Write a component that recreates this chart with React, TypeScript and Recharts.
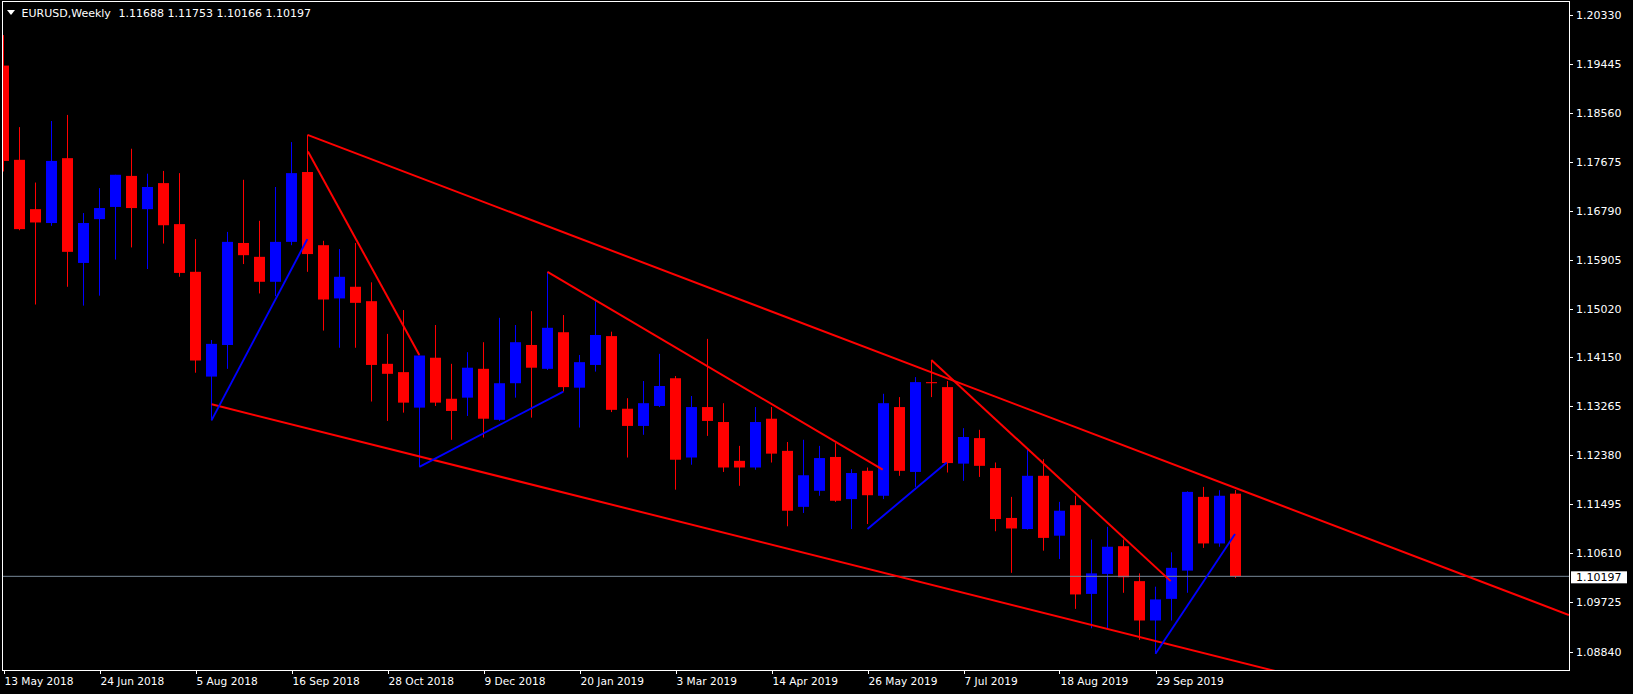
import React from 'react';
import { ComposedChart, Bar, XAxis, YAxis, ReferenceLine } from 'recharts';

// EURUSD weekly candles, week of 13 May 2018 .. week of 3 Nov 2019
const opens = [
  1.1941, 1.1771, 1.1682, 1.1657, 1.1774, 1.1585, 1.1664, 1.1686, 1.1742, 1.1682,
  1.1729, 1.1655, 1.1569, 1.1380, 1.1437, 1.1621, 1.1596, 1.1551, 1.1623, 1.1749,
  1.1617, 1.1521, 1.1542, 1.1516, 1.1403, 1.1388, 1.1324, 1.1414, 1.1340, 1.1342,
  1.1394, 1.1302, 1.1368, 1.1437, 1.1394, 1.1460, 1.1360, 1.1401, 1.1453, 1.1322,
  1.1291, 1.1327, 1.1377, 1.1234, 1.1325, 1.1298, 1.1228, 1.1216, 1.1304, 1.1246,
  1.1145, 1.1174, 1.1235, 1.1159, 1.1210, 1.1165, 1.1325, 1.1208, 1.1370, 1.1361,
  1.1223, 1.1269, 1.1215, 1.1125, 1.1105, 1.1201, 1.1093, 1.1148, 1.0988, 1.1024,
  1.1074, 1.1011, 1.0940, 1.0979, 1.1030, 1.1163, 1.1079, 1.11688,
];
const highs = [
  1.1996, 1.1830, 1.1730, 1.1841, 1.1852, 1.1675, 1.1720, 1.1744, 1.1791, 1.1746,
  1.1751, 1.1747, 1.1628, 1.1446, 1.1641, 1.1735, 1.1661, 1.1722, 1.1803, 1.1816,
  1.1625, 1.1610, 1.1621, 1.1550, 1.1457, 1.1500, 1.1418, 1.1473, 1.1403, 1.1424,
  1.1442, 1.1486, 1.1473, 1.1498, 1.1569, 1.1491, 1.1419, 1.1516, 1.1461, 1.1341,
  1.1372, 1.1421, 1.1381, 1.1345, 1.1448, 1.1332, 1.1255, 1.1325, 1.1325, 1.1262,
  1.1266, 1.1255, 1.1260, 1.1213, 1.1216, 1.1349, 1.1343, 1.1379, 1.1409, 1.1372,
  1.1287, 1.1284, 1.1225, 1.1163, 1.1248, 1.1231, 1.1154, 1.1165, 1.1086, 1.1109,
  1.1086, 1.1025, 1.1001, 1.1063, 1.1173, 1.1181, 1.1175, 1.11753,
];
const lows = [
  1.1750, 1.1644, 1.1510, 1.1652, 1.1542, 1.1508, 1.1526, 1.1591, 1.1613, 1.1574,
  1.1620, 1.1560, 1.1387, 1.1301, 1.1394, 1.1583, 1.1530, 1.1525, 1.1617, 1.1569,
  1.1463, 1.1432, 1.1432, 1.1335, 1.1300, 1.1315, 1.1217, 1.1327, 1.1266, 1.1309,
  1.1270, 1.1300, 1.1342, 1.1306, 1.1392, 1.1353, 1.1288, 1.1389, 1.1316, 1.1234,
  1.1275, 1.1325, 1.1176, 1.1221, 1.1273, 1.1208, 1.1183, 1.1212, 1.1225, 1.1110,
  1.1134, 1.1165, 1.1154, 1.1105, 1.1114, 1.1159, 1.1201, 1.1181, 1.1343, 1.1207,
  1.1192, 1.1199, 1.1101, 1.1026, 1.1104, 1.1066, 1.1051, 1.0961, 1.0926, 1.0926,
  1.0990, 1.0905, 1.0880, 1.0940, 1.0990, 1.1071, 1.1073, 1.10166,
];
const closes = [
  1.1769, 1.1646, 1.1658, 1.1769, 1.1605, 1.1657, 1.1684, 1.1744, 1.1684, 1.1722,
  1.1653, 1.1567, 1.1409, 1.1439, 1.1623, 1.1599, 1.1551, 1.1623, 1.1747, 1.1601,
  1.1519, 1.1560, 1.1513, 1.1401, 1.1385, 1.1333, 1.1418, 1.1333, 1.1318, 1.1396,
  1.1304, 1.1368, 1.1442, 1.1396, 1.1468, 1.1361, 1.1406, 1.1455, 1.1320, 1.1291,
  1.1332, 1.1363, 1.1230, 1.1325, 1.1300, 1.1216, 1.1216, 1.1298, 1.1241, 1.1138,
  1.1202, 1.1233, 1.1156, 1.1206, 1.1166, 1.1332, 1.1210, 1.1370, 1.1368, 1.1224,
  1.1271, 1.1219, 1.1123, 1.1106, 1.1201, 1.1089, 1.1138, 1.0987, 1.1025, 1.1073,
  1.1018, 1.0940, 1.0978, 1.1035, 1.1172, 1.1079, 1.1165, 1.10197,
];

const dateTicks = [0, 6, 12, 18, 24, 30, 36, 42, 48, 54, 60, 66, 72];
const dateLabels = [
  '13 May 2018', '24 Jun 2018', '5 Aug 2018', '16 Sep 2018', '28 Oct 2018', '9 Dec 2018',
  '20 Jan 2019', '3 Mar 2019', '14 Apr 2019', '26 May 2019', '7 Jul 2019', '18 Aug 2019',
  '29 Sep 2019',
];
const priceTicks = [
  1.2033, 1.19445, 1.1856, 1.17675, 1.1679, 1.15905, 1.1502,
  1.1415, 1.13265, 1.1238, 1.11495, 1.1061, 1.09725, 1.0884,
];

// trend lines drawn on the chart: [bar1, price1, bar2, price2]
const redLines = [
  [19.0, 1.1816, 97.84, 1.0950],
  [19.03, 1.1786, 25.99, 1.1419],
  [34.0, 1.1569, 54.95, 1.1212],
  [57.99, 1.1410, 72.95, 1.1011],
  [13.01, 1.1330, 97.84, 1.0716],
];
const blueLines = [
  [13.0, 1.1301, 18.99, 1.1628],
  [25.99, 1.1217, 34.99, 1.1353],
  [54.0, 1.1105, 58.95, 1.1225],
  [72.0, 1.0880, 76.97, 1.1096],
];

const symbol = 'EURUSD,Weekly';
const last = opens.length - 1;
const lastPrice = closes[last];

const W = 1633;
const H = 694;
const FONT = 'DejaVu Sans';
const BULL = '#0000ff';
const BEAR = '#ff0000';

const candles = opens.map((o, i) => ({ i, o, h: highs[i], l: lows[i], c: closes[i] }));

function Candle(props: any) {
  const { x, y, width, height } = props;
  const d = props.payload || props;
  const top = Math.min(y, y + height);
  const span = Math.abs(height);
  const k = d.h === d.l ? 0 : span / (d.h - d.l);
  const py = (v: number) => top + (d.h - v) * k;
  const color = d.c > d.o ? BULL : BEAR;
  const cx = x + width / 2;
  const bodyTop = py(Math.max(d.o, d.c));
  const bodyH = Math.max(1, py(Math.min(d.o, d.c)) - bodyTop);
  return (
    <g>
      <rect x={cx - 0.5} y={top} width={1} height={Math.max(span, 1)} fill={color} />
      <rect x={cx - 5.5} y={bodyTop} width={11} height={bodyH} fill={color} />
    </g>
  );
}

function PriceTick(props: any) {
  const { x, y, payload } = props;
  const ly = Math.round(y) + 0.5;
  return (
    <g>
      <line x1={x + 1} x2={x + 4} y1={ly} y2={ly} stroke="#fff" />
      <text x={x + 7} y={y + 4} fill="#fff" fontSize={11} fontFamily={FONT}>
        {Number(payload.value).toFixed(5)}
      </text>
    </g>
  );
}

function DateTick(props: any) {
  const { x, y, payload } = props;
  const lx = Math.round(x) + 0.5;
  const label = dateLabels[dateTicks.indexOf(payload.value)];
  return (
    <g>
      <line x1={lx} x2={lx} y1={y + 1} y2={y + 4} stroke="#fff" />
      <text x={x + 1} y={y + 15} fill="#fff" fontSize={10.6} fontFamily={FONT}>
        {label}
      </text>
    </g>
  );
}

function PriceTag(props: any) {
  const vb = props.viewBox || {};
  const right = vb.x + vb.width;
  const y = vb.y;
  return (
    <g>
      <rect x={right + 2} y={y - 5} width={56} height={12} fill="#fff" />
      <text x={right + 7} y={y + 5} fill="#000" fontSize={11} fontFamily={FONT}>
        {lastPrice.toFixed(5)}
      </text>
    </g>
  );
}

export default function App() {
  return (
    <div style={{ position: 'absolute', left: 0, top: 0, width: W, height: H, background: '#000', overflow: 'hidden' }}>
      <ComposedChart width={W} height={H} data={candles} margin={{ top: 2, right: 0, bottom: 0, left: 3 }}>
        <XAxis
          type="number"
          dataKey="i"
          domain={[-0.03125, 97.84375]}
          ticks={dateTicks}
          interval={0}
          allowDataOverflow
          axisLine={false}
          tickLine={false}
          tickSize={0}
          tickMargin={0}
          height={24}
          tick={<DateTick />}
        />
        <YAxis
          type="number"
          orientation="right"
          domain={[1.08507, 1.20557]}
          ticks={priceTicks}
          interval={0}
          allowDataOverflow
          axisLine={false}
          tickLine={false}
          tickSize={0}
          tickMargin={0}
          width={64}
          tick={<PriceTick />}
        />
        <ReferenceLine y={lastPrice} stroke="#778899" strokeWidth={1} label={<PriceTag />} />
        <Bar
          dataKey={(d: any) => [d.l, d.h]}
          barSize={12}
          shape={(p: any) => <Candle {...p} />}
          isAnimationActive={false}
        />
        {redLines.map((s, k) => (
          <ReferenceLine
            key={'r' + k}
            segment={[{ x: s[0], y: s[1] }, { x: s[2], y: s[3] }]}
            stroke="#ff0000"
            strokeWidth={2}
            ifOverflow="hidden"
          />
        ))}
        {blueLines.map((s, k) => (
          <ReferenceLine
            key={'b' + k}
            segment={[{ x: s[0], y: s[1] }, { x: s[2], y: s[3] }]}
            stroke="#0000ff"
            strokeWidth={1.9}
            ifOverflow="hidden"
          />
        ))}
      </ComposedChart>
      <svg style={{ position: 'absolute', left: 0, top: 0, pointerEvents: 'none' }} width={W} height={H}>
        <rect x={2.5} y={1.5} width={1567} height={669} fill="none" stroke="#fff" />
        <polygon points="7,10 15,10 11,15" fill="#fff" />
        <text x={21.5} y={16.5} fill="#fff" fontSize={11} fontFamily={FONT}>{symbol}</text>
        <text x={118.5} y={16.5} fill="#fff" fontSize={11} fontFamily={FONT}>
          {[opens[last], highs[last], lows[last], closes[last]].map((v) => v.toFixed(5)).join(' ')}
        </text>
      </svg>
    </div>
  );
}
